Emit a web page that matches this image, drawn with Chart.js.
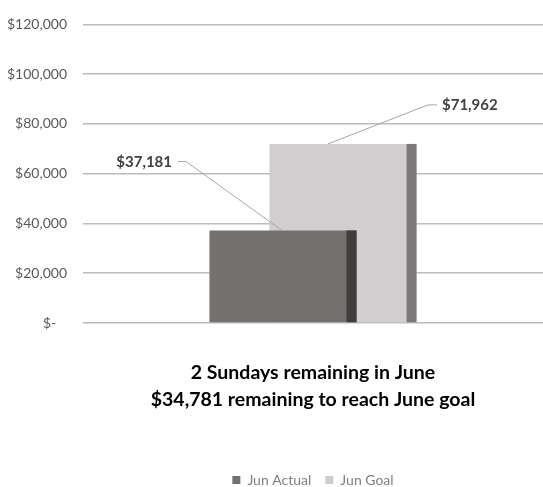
<!DOCTYPE html>
<html>
<head>
<meta charset="utf-8">
<script src="https://cdn.jsdelivr.net/npm/chart.js@4/dist/chart.umd.min.js"></script>
<style>
  html, body { margin: 0; padding: 0; background: #fff; overflow: hidden; }
  #wrap { width: 543px; height: 487px; }
</style>
</head>
<body>
<div id="wrap"><canvas id="myChart"></canvas></div>
<script>
// chart data
const categories = ['Jun'];
const actualValues = [37181];
const goalValues = [71962];
const seriesNames = ['Jun Actual', 'Jun Goal'];
const yTicks = [0, 20000, 40000, 60000, 80000, 100000, 120000];
const titleLines = ['2 Sundays remaining in June', '$34,781 remaining to reach June goal'];

const FONT = 'Lato, "Open Sans", sans-serif';

function money(v) {
    if (v === 0) return '$-   ';
    return '$' + v.toLocaleString('en-US');
}

// darker strip on the right of each bar, like the original 3D-ish look
const sideFace = {
    id: 'sideFace',
    afterDatasetDraw(chart, args) {
        const ctx = chart.ctx;
        const ds = chart.data.datasets[args.index];
        args.meta.data.forEach(el => {
            const p = el.getProps(['x', 'y', 'base', 'width'], true);
            ctx.save();
            ctx.fillStyle = ds.sideColor;
            ctx.fillRect(p.x + p.width / 2 - 10, p.y, 10, p.base - p.y);
            ctx.restore();
        });
    }
};

// value labels with leader lines
const leaderLabels = {
    id: 'leaderLabels',
    afterDatasetsDraw(chart) {
        const ctx = chart.ctx;
        ctx.save();
        ctx.font = 'bold 15px ' + FONT;
        ctx.fillStyle = '#404040';
        ctx.strokeStyle = '#a6a6a6';
        ctx.lineWidth = 1;
        ctx.textBaseline = 'middle';

        const a = chart.getDatasetMeta(0).data[0];
        const ap = a.getProps(['x', 'y'], true);
        ctx.beginPath();
        ctx.moveTo(ap.x - 105, ap.y - 69);
        ctx.lineTo(ap.x - 97, ap.y - 69);
        ctx.lineTo(ap.x - 1, ap.y);
        ctx.stroke();
        ctx.textAlign = 'right';
        ctx.fillText(money(chart.data.datasets[0].data[0]), ap.x - 111, ap.y - 68);

        const g = chart.getDatasetMeta(1).data[0];
        const gp = g.getProps(['x', 'y'], true);
        ctx.beginPath();
        ctx.moveTo(gp.x - 15, gp.y);
        ctx.lineTo(gp.x + 85, gp.y - 39);
        ctx.lineTo(gp.x + 94, gp.y - 39);
        ctx.stroke();
        ctx.textAlign = 'left';
        ctx.fillText(money(chart.data.datasets[1].data[0]), gp.x + 99, gp.y - 39);
        ctx.restore();
    }
};

const ctx = document.getElementById('myChart');
new Chart(ctx, {
    type: 'bar',
    data: {
        labels: categories,
        datasets: [
            {
                label: seriesNames[0],
                data: actualValues,
                backgroundColor: '#767171',
                sideColor: '#403c3c',
                categoryPercentage: 0.261,
                barPercentage: 2.45
            },
            {
                label: seriesNames[1],
                data: goalValues,
                backgroundColor: '#d0cece',
                sideColor: '#7b7878',
                categoryPercentage: 0.261,
                barPercentage: 2.45
            }
        ]
    },
    plugins: [sideFace, leaderLabels],
    options: {
        responsive: true,
        maintainAspectRatio: false,
        animation: false,
        layout: { padding: { top: 20, right: 0, bottom: -10, left: 0 } },
        scales: {
            x: { display: false },
            y: {
                min: 0,
                max: 120000,
                afterBuildTicks(scale) {
                    scale.ticks = yTicks.map(v => ({ value: v }));
                },
                afterFit(scale) {
                    scale.width = 83;
                },
                border: { display: false },
                grid: { color: '#bcbcbc', lineWidth: 1.5, drawTicks: false },
                ticks: {
                    padding: 16,
                    color: '#595959',
                    font: { family: FONT, size: 14 },
                    callback: v => money(v)
                }
            }
        },
        plugins: {
            tooltip: { enabled: false },
            title: {
                display: true,
                position: 'bottom',
                fullSize: false,
                weight: 500,
                text: titleLines,
                color: '#000',
                font: { family: FONT, size: 19.5, weight: 'bold', lineHeight: 1.385 },
                padding: { top: 36.5, bottom: 45.5 }
            },
            legend: {
                position: 'bottom',
                fullSize: false,
                weight: 1000,
                labels: {
                    boxWidth: 8,
                    boxHeight: 8,
                    padding: 14,
                    color: '#7f7f7f',
                    font: { family: FONT, size: 14 }
                }
            }
        }
    }
});
</script>
</body>
</html>
